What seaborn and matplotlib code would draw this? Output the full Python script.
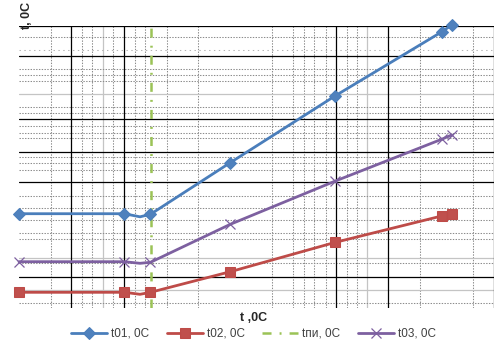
import matplotlib
matplotlib.use("Agg")
import matplotlib.pyplot as plt
import seaborn as sns
import pandas as pd

# ---- data (arbitrary units 0..100) ----
x_vals = [0.0, 22.17, 25.46, 27.66, 44.46, 66.57, 88.92, 91.02]
t01 = [33.4, 33.4, 32.3, 33.2, 51.5, 75.2, 97.8, 100.2]
t02 = [5.56, 5.56, 4.85, 5.56, 12.86, 23.27, 32.59, 33.30]
t03 = [16.40, 16.40, 15.83, 16.19, 29.65, 44.99, 59.76, 61.28]
tpi_x = [27.71, 27.71]
tpi_y = [0.0, 100.0]
series_names = ["t01, 0C", "t02, 0C", "tпи, 0C", "t03, 0C"]

# grid line positions
vx_black = [11.0, 22.15, 66.63, 77.70, 100.0]
vx_gray = [17.74, 73.28]
vx_dot = [6.67, 13.32, 15.42, 19.84, 24.41, 26.51, 31.08, 37.72, 53.29, 57.71,
          60.03, 62.13, 64.53, 68.95, 71.05, 84.43, 95.58]
hy_black = [100.0, 89.27, 66.84, 55.37, 44.53, 10.87]
hy_gray = [75.81, 17.61, 6.38]
hy_fine = [91.39]
hy_dot = [95.89, 84.56, 82.54, 80.31, 71.10, 68.97, 64.47, 62.10, 60.11, 53.38,
          51.26, 48.88, 39.78, 35.32, 31.17, 26.46, 24.34, 16.05, 1.88]

sns.set_theme(style="white")
plt.rcParams["font.family"] = ["Liberation Sans", "DejaVu Sans"]
plt.rcParams["lines.scale_dashes"] = False

fig = plt.figure(figsize=(5.03, 3.54), dpi=100)
ax = fig.add_axes([19 / 503, 1 - 308 / 354, (494.3 - 19) / 503, (308 - 25.7) / 354])
ax.set_xlim(0, 100)
ax.set_ylim(0, 100)
for s in ax.spines.values():
    s.set_visible(False)
ax.set_xticks([])
ax.set_yticks([])

for v in vx_dot:
    ax.axvline(v, color="#8c8c8c", lw=0.75, ls=(0, (1.0, 1.0)), zorder=0)
for v in vx_gray:
    ax.axvline(v, color="#c4c4c4", lw=0.9, zorder=0)
for v in vx_black:
    ax.axvline(v, color="black", lw=0.9, zorder=0.5)
for h in hy_dot:
    ax.axhline(h, color="#8c8c8c", lw=0.75, ls=(0, (1.0, 1.0)), zorder=0)
for h in hy_fine:
    ax.axhline(h, color="#b4b4b4", lw=0.75, ls=(0, (1.0, 2.5)), zorder=0)
for h in hy_gray:
    ax.axhline(h, color="#c4c4c4", lw=0.9, zorder=0)
for h in hy_black:
    ax.axhline(h, color="black", lw=0.9, zorder=0.5)

df = pd.DataFrame({"x": x_vals, "t01": t01, "t02": t02, "t03": t03})
mk = [0, 1, 3, 4, 5, 6, 7]

sns.lineplot(data=df, x="x", y="t01", ax=ax, sort=False, estimator=None,
             color="#4a7ebb", lw=2.0,
             marker="D", markersize=6.2, markerfacecolor="#4f81bd",
             markeredgecolor="#4a7ebb", markevery=mk, clip_on=False,
             label=series_names[0], zorder=3)
sns.lineplot(data=df, x="x", y="t02", ax=ax, sort=False, estimator=None,
             color="#be4b48", lw=2.0,
             marker="s", markersize=7.7, markerfacecolor="#c0504d",
             markeredgecolor="#be4b48", markevery=mk, clip_on=False,
             label=series_names[1], zorder=3)
sns.lineplot(x=tpi_x, y=tpi_y, ax=ax, sort=False, estimator=None,
             color="#9bc356", lw=1.8, label=series_names[2], zorder=2)
ax.lines[-1].set_dashes((6.5, 5.8, 1.4, 5.8))
sns.lineplot(data=df, x="x", y="t03", ax=ax, sort=False, estimator=None,
             color="#7d60a0", lw=2.0,
             marker="x", markersize=7.7, markeredgewidth=0.9,
             markeredgecolor="#7d60a0", markevery=mk, clip_on=False,
             label=series_names[3], zorder=3)

ax.set_xlabel("")
ax.set_ylabel("")
handles, labels = ax.get_legend_handles_labels()
ax.legend_.remove()
fig.legend(handles, labels, loc="center", bbox_to_anchor=(253.5 / 503, 1 - 334 / 354),
           ncol=4, frameon=False, fontsize=8.5, handlelength=3.05, handletextpad=0.34,
           columnspacing=1.5, labelcolor="#404040")

fig.text(254 / 503, 1 - 318 / 354, "t ,0C", ha="center", va="center",
         fontsize=9, fontweight="bold")
fig.text(27 / 503, 1 - 15.5 / 354, "t, 0C", ha="center", va="center",
         rotation=90, fontsize=9, fontweight="bold")

fig.savefig("out.png", dpi=100)
